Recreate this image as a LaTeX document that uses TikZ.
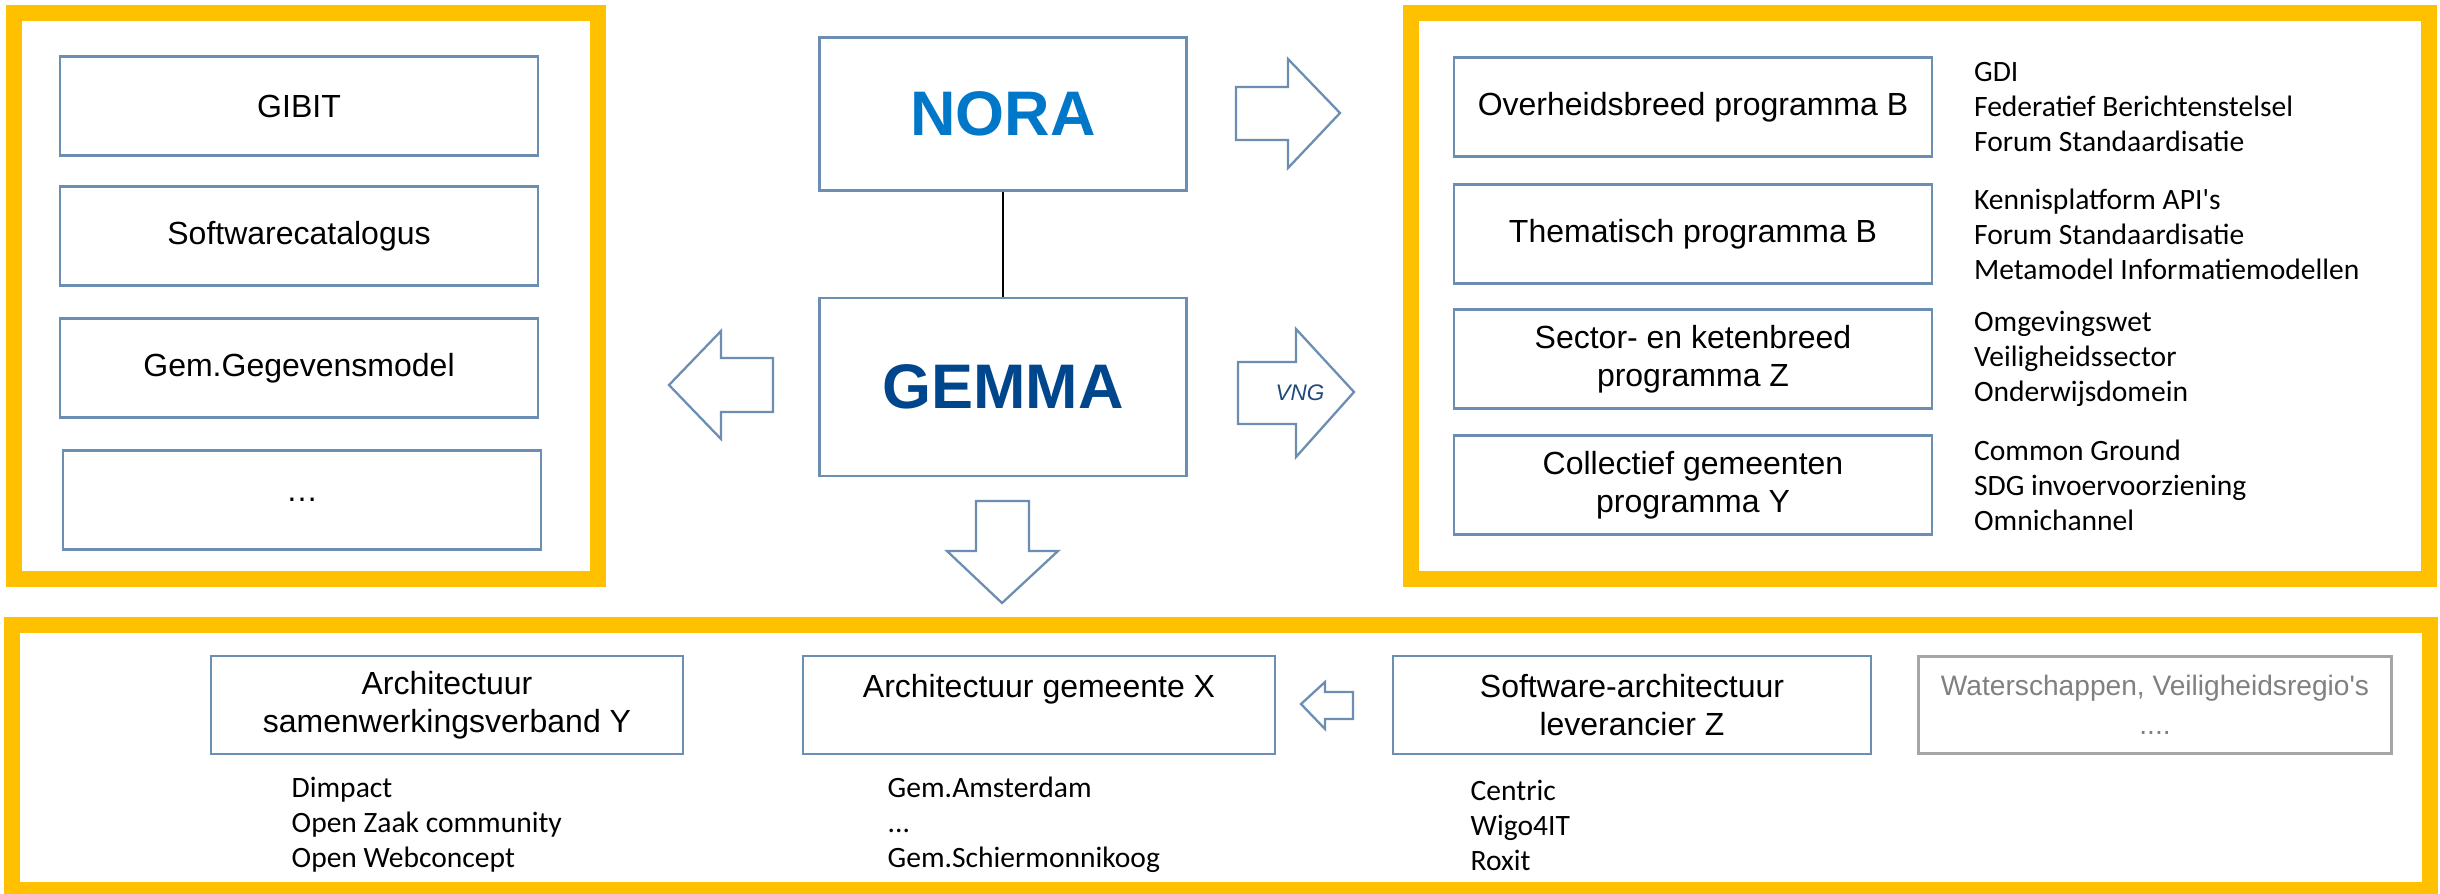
\documentclass[tikz,border=0pt]{standalone}
\usepackage{fontspec}
\setmainfont{Liberation Sans}
\newfontfamily\lijstfont{Carlito}
\usepackage{tikz}
\usetikzlibrary{positioning}
\usepackage{xcolor}

\definecolor{kader}{RGB}{255,192,0}
\definecolor{rand}{RGB}{108,142,178}
\definecolor{norablauw}{RGB}{0,119,200}
\definecolor{gemmablauw}{RGB}{0,70,140}
\definecolor{vngblauw}{RGB}{31,73,125}
\definecolor{grijs}{RGB}{166,166,166}
\definecolor{grijstekst}{RGB}{128,128,128}

\tikzset{
	kaderlijn/.style={draw=kader, line width=4.55pt},
	blok/.style={draw=rand, line width=0.7pt, minimum width=4.78cm, minimum height=0.99cm,
		align=center, inner sep=0pt, font=\fontsize{9.1}{10.8}\selectfont},
	lijst/.style={align=left, inner sep=0pt, font=\lijstfont\fontsize{8.4}{9.96}\selectfont},
	pijl/.style={draw=rand, line width=0.65pt, fill=white, line join=miter},
}

\begin{document}
\begin{tikzpicture}[x=0.01cm, y=-0.01cm]
		\useasboundingbox (0,0) rectangle (2440,893);
		% gele kaders
		\draw[kaderlijn] (14,13) rectangle (598,579);
		\draw[kaderlijn] (1411,13) rectangle (2429,579);
		\draw[kaderlijn] (12,625) rectangle (2430,890);
		
		% links
		\foreach \n/\y/\t in {gibit/106/GIBIT, swc/236/Softwarecatalogus, ggm/368/Gem.Gegevensmodel}
		\node[blok] (\n) at (299,\y) {\t};
		\node[blok] (overig) at (302,500) {\ldots};
		
		% midden
		\node[blok, minimum width=3.67cm, minimum height=1.53cm, text=norablauw,
			font=\fontsize{17.9}{20}\selectfont\bfseries] (nora) at (1003,114) {NORA};
		\node[blok, minimum width=3.67cm, minimum height=1.78cm, text=gemmablauw,
			font=\fontsize{17.9}{20}\selectfont\bfseries] (gemma) at (1003,387) {GEMMA};
		\draw[line width=0.4pt] (nora) -- (gemma);
		
		% pijlen
		\draw[pijl] (1236,87) -- (1288,87) -- (1288,59) -- (1340,113) -- (1288,168) -- (1288,140) -- (1236,140) -- cycle;
		\draw[pijl] (1238,362) -- (1296,362) -- (1296,329) -- (1354,392) -- (1296,457) -- (1296,424) -- (1238,424) -- cycle;
		\node[text=vngblauw, font=\fontsize{6.4}{7}\selectfont\itshape] (vng) at (1300,393) {VNG};
		\draw[pijl] (773,358) -- (721,358) -- (721,331) -- (669,385) -- (721,439) -- (721,412) -- (773,412) -- cycle;
		\draw[pijl] (976,501) -- (1029,501) -- (1029,551) -- (1058,551) -- (1002,603) -- (947,551) -- (976,551) -- cycle;
		\draw[pijl] (1353,692) -- (1325,692) -- (1325,682) -- (1301,704) -- (1325,729) -- (1325,719) -- (1353,719) -- cycle;
		
		% rechts
		\foreach \n/\y/\t in {ob/107/Overheidsbreed programma B, tp/234/Thematisch programma B,
			sk/359/{Sector- en ketenbreed\\programma Z}, cg/485/{Collectief gemeenten\\programma Y}}
		\node[blok] (\n) at (1693,\y) {\t};
		\node[lijst, right=0.40cm of ob] (ob-l) {GDI\\Federatief Berichtenstelsel\\Forum Standaardisatie};
		\node[lijst, right=0.40cm of tp] (tp-l) {Kennisplatform API\textquotesingle s\\Forum Standaardisatie\\Metamodel Informatiemodellen};
		\node[lijst, right=0.40cm of sk] (sk-l) {Omgevingswet\\Veiligheidssector\\Onderwijsdomein};
		\node[lijst, right=0.40cm of cg] (cg-l) {Common Ground\\SDG invoervoorziening\\Omnichannel};
		
		% onder
		\node[blok, minimum width=4.72cm, minimum height=0.98cm] (swv) at (447,705) {Architectuur\\samenwerkingsverband Y};
		\node[blok, minimum width=4.72cm, minimum height=0.98cm] (gemx) at (1039,705) {Architectuur gemeente X\\\mbox{}};
		\node[blok, minimum height=0.98cm] (lev) at (1632,705) {Software-architectuur\\leverancier Z};
		\node[blok, minimum width=4.73cm, minimum height=0.97cm, draw=grijs, text=grijstekst,
			font=\fontsize{8}{11.2}\selectfont] (ws) at (2155,705) {Waterschappen, Veiligheidsregio\textquotesingle s\\....};
		\node[lijst, anchor=west] (swv-l) at (291,825) {Dimpact\\Open Zaak community\\Open Webconcept};
		\node[lijst, anchor=west] (gemx-l) at (887,825) {Gem.Amsterdam\\...\\Gem.Schiermonnikoog};
		\node[lijst, anchor=west] (lev-l) at (1470,825) {Centric\\Wigo4IT\\Roxit};
	\end{tikzpicture}
\end{document}
